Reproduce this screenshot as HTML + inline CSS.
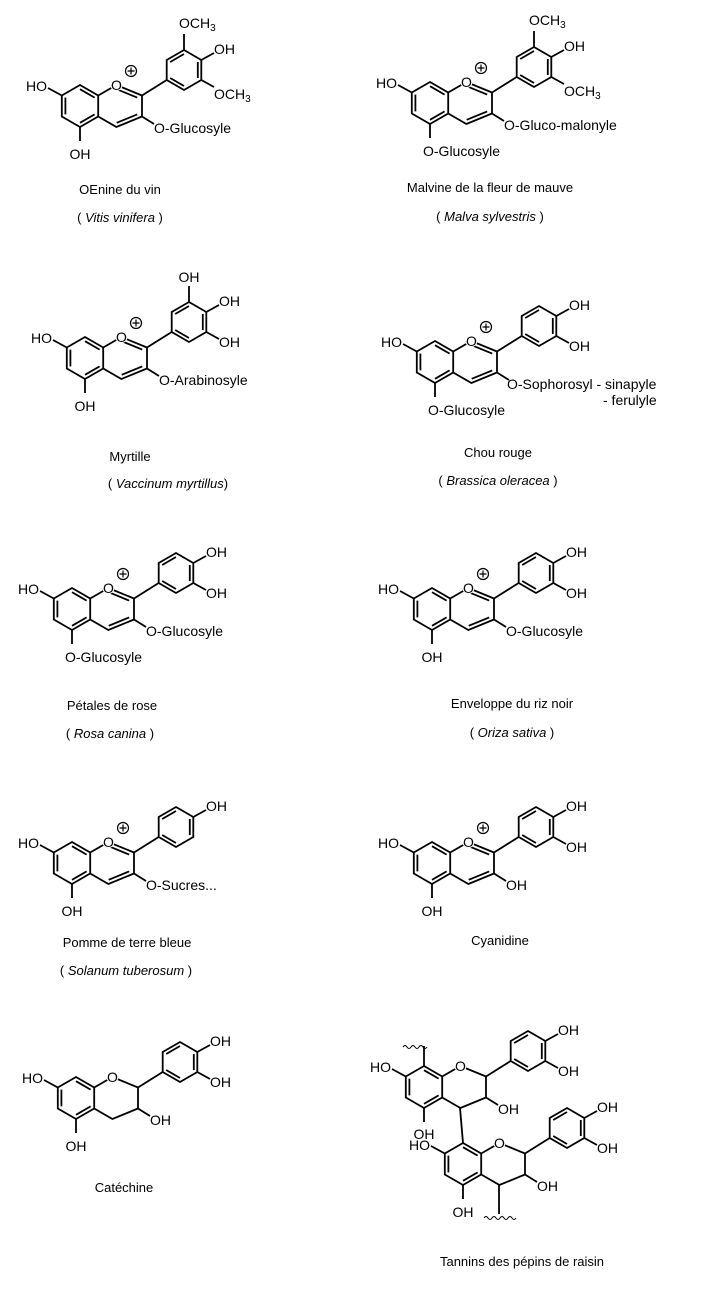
<!DOCTYPE html>
<html><head><meta charset="utf-8"><style>
html,body{margin:0;padding:0;background:#fff}
svg{display:block}
text{font-family:"Liberation Sans",Arial,sans-serif;font-size:14px;fill:#000}
.c{font-size:13px}
</style></head><body>
<svg width="707" height="1301" viewBox="0 0 707 1301" xmlns="http://www.w3.org/2000/svg">
<defs>
<g id="base" fill="none" stroke="#000" stroke-width="1.8">
<path d="M80,85 L98.2,95.5 L98.2,116.5 L80,127 L61.8,116.5 L61.8,95.5 Z"/>
<path d="M98.2,95.5 L116.4,85 L142,95.5 L142,116.5 L116.4,127 L98.2,116.5"/>
<path d="M142,95.5 L166.7,80"/>
<path d="M166.7,80 L166.7,60 L184,50 L201.3,60 L201.3,80 L184,90 Z"/>
<path d="M61.8,95.5 L48,88 M80,127 L80,141 M142,116.5 L154,124"/>
<path d="M65.4,97.6 L65.4,114.4 M80,89.2 L94.6,97.6 M94.6,114.4 L80,122.8"/>
<path d="M170.2,62 L184,54 M197.8,62 L197.8,78 M184,86 L170.2,78"/>
</g>
<g id="dbc" fill="none" stroke="#000" stroke-width="1.8">
<path d="M116.7,89.2 L137.2,97.6 M137.2,114.4 L116.7,122.8"/>
</g>
<g id="bTop" stroke="#000" stroke-width="1.8"><path d="M184,50 L184,34"/></g>
<g id="bUR" stroke="#000" stroke-width="1.8"><path d="M201.3,60 L214,53"/></g>
<g id="bLR" stroke="#000" stroke-width="1.8"><path d="M201.3,80 L214,87"/></g>
<g id="plus" fill="none" stroke="#000" stroke-width="1.2"><circle cx="131" cy="71" r="5.5"/><path d="M131,67.5 V74.5 M127.5,71 H134.5"/></g>
</defs>

<!-- 1 OEnine -->
<g transform="translate(0,0)">
<use href="#base"/><use href="#dbc"/><use href="#bTop"/><use href="#bUR"/><use href="#bLR"/><use href="#plus"/>
<circle cx="116.4" cy="85" r="6" fill="#fff"/><text x="116.4" y="90" text-anchor="middle">O</text>
<text x="47" y="91" text-anchor="end">HO</text>
<text x="80" y="159" text-anchor="middle">OH</text>
<text x="154" y="133">O-Glucosyle</text>
<text x="179" y="28">OCH<tspan font-size="10" dy="3">3</tspan></text>
<text x="214" y="54">OH</text>
<text x="214" y="99">OCH<tspan font-size="10" dy="3">3</tspan></text>
</g>
<text class="c" x="120" y="194" text-anchor="middle">OEnine du vin</text>
<text class="c" x="120" y="222" text-anchor="middle">( <tspan font-style="italic">Vitis vinifera</tspan> )</text>

<!-- 2 Malvine -->
<g transform="translate(350,-3)">
<use href="#base"/><use href="#dbc"/><use href="#bTop"/><use href="#bUR"/><use href="#bLR"/><use href="#plus"/>
<circle cx="116.4" cy="85" r="6" fill="#fff"/><text x="116.4" y="90" text-anchor="middle">O</text>
<text x="47" y="91" text-anchor="end">HO</text>
<text x="73" y="159">O-Glucosyle</text>
<text x="154" y="133">O-Gluco-malonyle</text>
<text x="179" y="28">OCH<tspan font-size="10" dy="3">3</tspan></text>
<text x="214" y="54">OH</text>
<text x="214" y="99">OCH<tspan font-size="10" dy="3">3</tspan></text>
</g>
<text class="c" x="490" y="192" text-anchor="middle">Malvine de la fleur de mauve</text>
<text class="c" x="490" y="221" text-anchor="middle">( <tspan font-style="italic">Malva sylvestris</tspan> )</text>

<!-- 3 Myrtille -->
<g transform="translate(5,252)">
<use href="#base"/><use href="#dbc"/><use href="#bTop"/><use href="#bUR"/><use href="#bLR"/><use href="#plus"/>
<circle cx="116.4" cy="85" r="6" fill="#fff"/><text x="116.4" y="90" text-anchor="middle">O</text>
<text x="47" y="91" text-anchor="end">HO</text>
<text x="80" y="159" text-anchor="middle">OH</text>
<text x="154" y="133">O-Arabinosyle</text>
<text x="184" y="30" text-anchor="middle">OH</text>
<text x="214" y="54">OH</text>
<text x="214" y="95">OH</text>
</g>
<text class="c" x="130" y="461" text-anchor="middle">Myrtille</text>
<text class="c" x="168" y="488" text-anchor="middle">( <tspan font-style="italic">Vaccinum myrtillus</tspan>)</text>

<!-- 4 Chou rouge -->
<g transform="translate(355,256)">
<use href="#base"/><use href="#dbc"/><use href="#bUR"/><use href="#bLR"/><use href="#plus"/>
<circle cx="116.4" cy="85" r="6" fill="#fff"/><text x="116.4" y="90" text-anchor="middle">O</text>
<text x="47" y="91" text-anchor="end">HO</text>
<text x="73" y="159">O-Glucosyle</text>
<text x="152" y="133">O-Sophorosyl  - sinapyle</text>
<text x="248" y="149">-  ferulyle</text>
<text x="214" y="54">OH</text>
<text x="214" y="95">OH</text>
</g>
<text class="c" x="498" y="457" text-anchor="middle">Chou rouge</text>
<text class="c" x="498" y="485" text-anchor="middle">( <tspan font-style="italic">Brassica oleracea</tspan> )</text>

<!-- 5 Rose -->
<g transform="translate(-8,503)">
<use href="#base"/><use href="#dbc"/><use href="#bUR"/><use href="#bLR"/><use href="#plus"/>
<circle cx="116.4" cy="85" r="6" fill="#fff"/><text x="116.4" y="90" text-anchor="middle">O</text>
<text x="47" y="91" text-anchor="end">HO</text>
<text x="73" y="159">O-Glucosyle</text>
<text x="154" y="133">O-Glucosyle</text>
<text x="214" y="54">OH</text>
<text x="214" y="95">OH</text>
</g>
<text class="c" x="112" y="710" text-anchor="middle">Pétales de rose</text>
<text class="c" x="110" y="738" text-anchor="middle">( <tspan font-style="italic">Rosa canina</tspan> )</text>

<!-- 6 Riz -->
<g transform="translate(352,503)">
<use href="#base"/><use href="#dbc"/><use href="#bUR"/><use href="#bLR"/><use href="#plus"/>
<circle cx="116.4" cy="85" r="6" fill="#fff"/><text x="116.4" y="90" text-anchor="middle">O</text>
<text x="47" y="91" text-anchor="end">HO</text>
<text x="80" y="159" text-anchor="middle">OH</text>
<text x="154" y="133">O-Glucosyle</text>
<text x="214" y="54">OH</text>
<text x="214" y="95">OH</text>
</g>
<text class="c" x="512" y="708" text-anchor="middle">Enveloppe du riz noir</text>
<text class="c" x="512" y="737" text-anchor="middle">( <tspan font-style="italic">Oriza sativa</tspan> )</text>

<!-- 7 Pomme -->
<g transform="translate(-8,757)">
<use href="#base"/><use href="#dbc"/><use href="#bUR"/><use href="#plus"/>
<circle cx="116.4" cy="85" r="6" fill="#fff"/><text x="116.4" y="90" text-anchor="middle">O</text>
<text x="47" y="91" text-anchor="end">HO</text>
<text x="80" y="159" text-anchor="middle">OH</text>
<text x="154" y="133">O-Sucres...</text>
<text x="214" y="54">OH</text>
</g>
<text class="c" x="127" y="947" text-anchor="middle">Pomme de terre bleue</text>
<text class="c" x="126" y="975" text-anchor="middle">( <tspan font-style="italic">Solanum tuberosum</tspan> )</text>

<!-- 8 Cyanidine -->
<g transform="translate(352,757)">
<use href="#base"/><use href="#dbc"/><use href="#bUR"/><use href="#bLR"/><use href="#plus"/>
<circle cx="116.4" cy="85" r="6" fill="#fff"/><text x="116.4" y="90" text-anchor="middle">O</text>
<text x="47" y="91" text-anchor="end">HO</text>
<text x="80" y="159" text-anchor="middle">OH</text>
<text x="154" y="133">OH</text>
<text x="214" y="54">OH</text>
<text x="214" y="95">OH</text>
</g>
<text class="c" x="500" y="945" text-anchor="middle">Cyanidine</text>

<!-- 9 Catechine -->
<g transform="translate(-4,992)">
<use href="#base"/><use href="#bUR"/><use href="#bLR"/>
<circle cx="116.4" cy="85" r="6" fill="#fff"/><text x="116.4" y="90" text-anchor="middle">O</text>
<text x="47" y="91" text-anchor="end">HO</text>
<text x="80" y="159" text-anchor="middle">OH</text>
<text x="154" y="133">OH</text>
<text x="214" y="54">OH</text>
<text x="214" y="95">OH</text>
</g>
<text class="c" x="124" y="1192" text-anchor="middle">Catéchine</text>

<!-- 10 Tannins -->
<g transform="translate(344,981)">
<use href="#base"/><use href="#bUR"/><use href="#bLR"/>
<circle cx="116.4" cy="85" r="6" fill="#fff"/><text x="116.4" y="90" text-anchor="middle">O</text>
<text x="47" y="91" text-anchor="end">HO</text>
<text x="80" y="158" text-anchor="middle">OH</text>
<text x="154" y="133">OH</text>
<text x="214" y="54">OH</text>
<text x="214" y="95">OH</text>
</g>
<g transform="translate(383,1058)">
<use href="#base"/><use href="#bUR"/><use href="#bLR"/>
<circle cx="116.4" cy="85" r="6" fill="#fff"/><text x="116.4" y="90" text-anchor="middle">O</text>
<text x="47" y="92" text-anchor="end">HO</text>
<text x="80" y="159" text-anchor="middle">OH</text>
<text x="154" y="133">OH</text>
<text x="214" y="54">OH</text>
<text x="214" y="95">OH</text>
</g>
<g fill="none" stroke="#000" stroke-width="1.8">
<path d="M460,1108 L463,1143"/>
<path d="M424,1066 L424,1046"/>
<path d="M499,1185 L499,1214"/>
<path d="M403,1047 q2,-3 4,0 t4,0 t4,0 t4,0 t4,0 t4,0" stroke-width="1"/>
<path d="M484,1218 q2,-3 4,0 t4,0 t4,0 t4,0 t4,0 t4,0 t4,0 t4,0" stroke-width="1"/>
</g>
<text class="c" x="522" y="1266" text-anchor="middle">Tannins des pépins de raisin</text>
</svg>
</body></html>
